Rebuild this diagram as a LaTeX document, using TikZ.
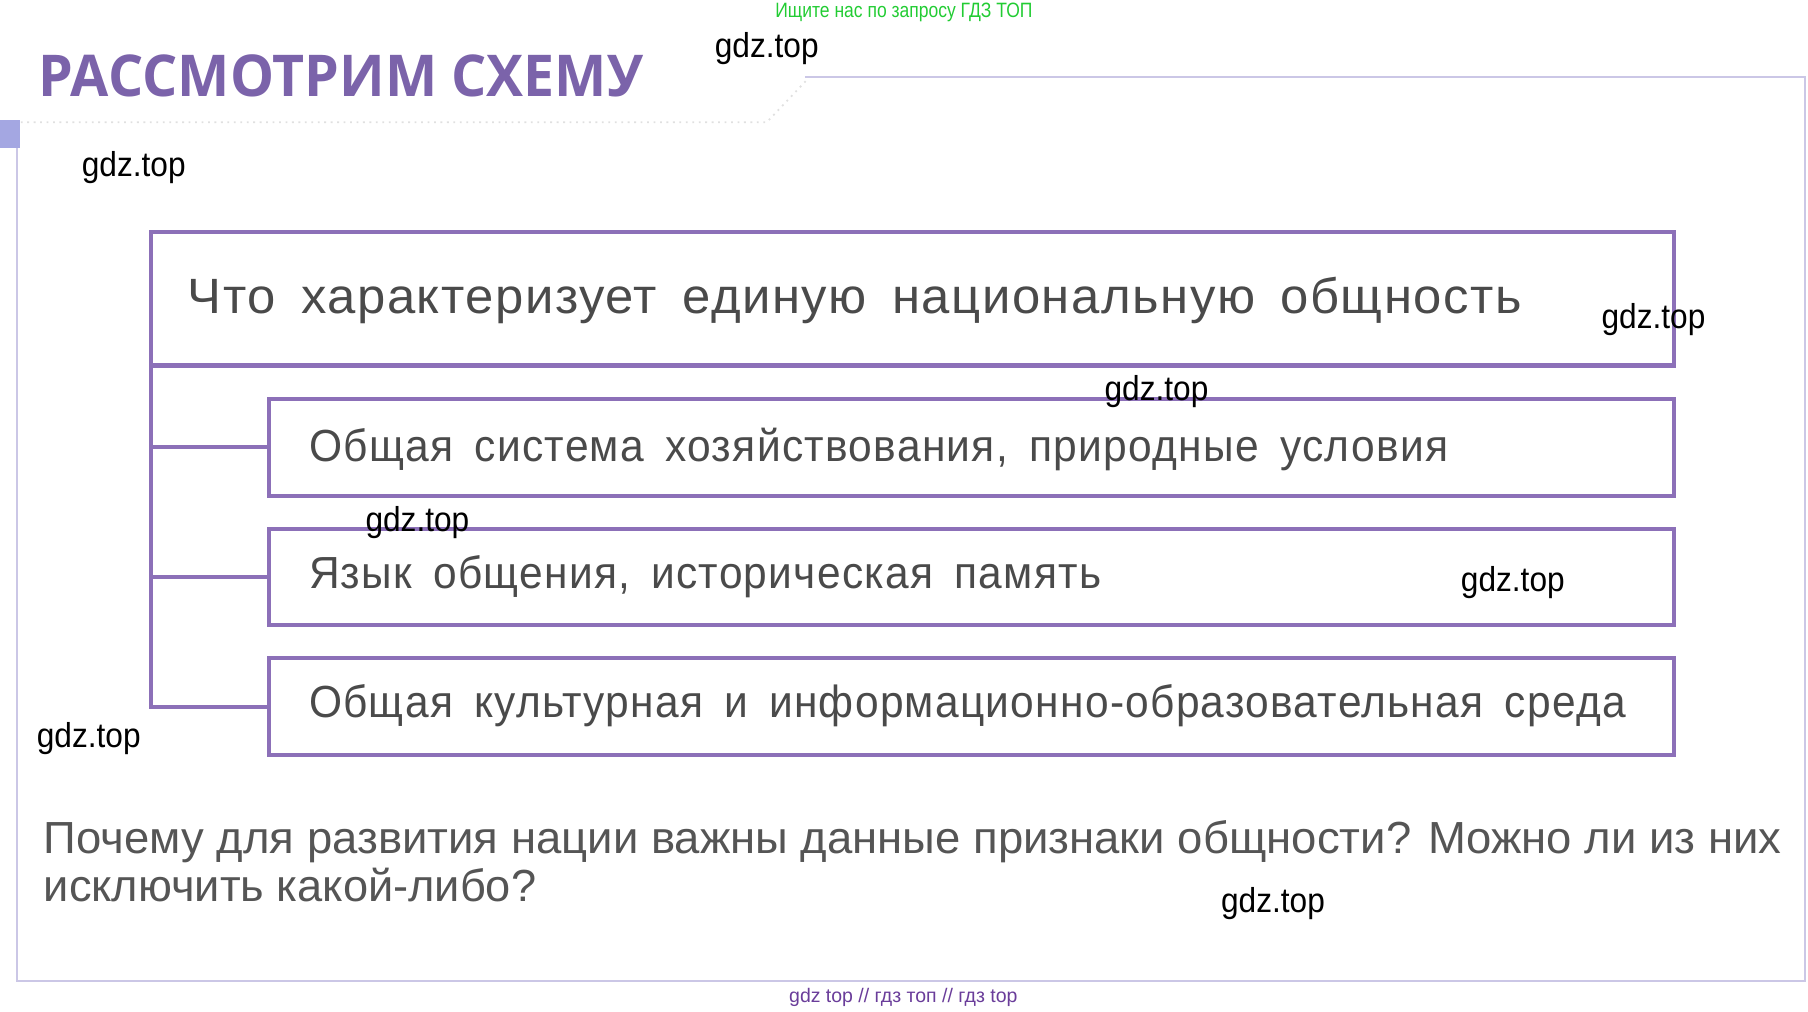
\documentclass[tikz,border=0pt]{standalone}
\usepackage{fontspec}
\usepackage{graphicx}
\setmainfont{Liberation Sans}
\newfontfamily\bodyf{Liberation Sans}[LetterSpace=3]
\newfontfamily\plainf{Liberation Sans}
\newfontfamily\titlef{Open Sans}
\definecolor{boxc}{HTML}{8C70B8}
\definecolor{txtc}{HTML}{4A4A4A}
\definecolor{qc}{HTML}{555555}
\definecolor{titlec}{HTML}{7B63AA}
\definecolor{framec}{HTML}{CBC7E6}
\definecolor{tabc}{HTML}{A4A7E2}
\definecolor{greenc}{HTML}{22CC33}
\definecolor{wmc}{HTML}{6A3D9A}
\newlength\fitlen
\newcommand\fitto[2]{\settowidth{\fitlen}{#2}\pgfmathsetmacro\fitr{(#1)/\fitlen}\scalebox{\fitr}[1]{#2}}
\newcommand\mymainfont{\bodyf\fontsize{21.5pt}{26pt}\selectfont\spaceskip=0.5em\relax}
\newcommand\mysubfont{\bodyf\fontsize{19.5pt}{24pt}\selectfont\spaceskip=0.5em\relax}
\begin{document}
\begin{tikzpicture}[x=0.5pt,y=-0.5pt,
  boxst/.style={draw=boxc,line width=1.8pt,rectangle,inner sep=0pt,outer sep=0pt,anchor=north west},
  conn/.style={draw=boxc,line width=1.8pt},
  txt/.style={inner sep=0pt,outer sep=0pt,anchor=base west,text=txtc},
  mainf/.style={font=\mymainfont},
  subf/.style={font=\mysubfont},
  qf/.style={font=\plainf\fontsize{19.5pt}{24pt}\selectfont,text=qc},
  wm/.style={inner sep=0pt,outer sep=0pt,anchor=base west,text=black,font=\plainf\fontsize{15pt}{18pt}\selectfont}]
\useasboundingbox (0,0) rectangle (1568,877);
% outer frame
\draw[framec,line width=0.9pt] (698,67) -- (1565,67) -- (1565,851) -- (15,851) -- (15,128);
\draw[black!12,line width=0.8pt,dotted] (18,106) -- (665,106) -- (700,69);
\fill[tabc] (0,104) rectangle (17,128);
% title
\node[inner sep=0pt,outer sep=0pt,anchor=base west,text=titlec,font=\titlef\bfseries\fontsize{25pt}{30pt}\selectfont] (title) at (33,84) {\fitto{262.5pt}{РАССМОТРИМ СХЕМУ}};
% boxes
\node[boxst,minimum width=660.5pt,minimum height=58pt] (main) at (131,201) {};
\node[boxst,minimum width=609.5pt,minimum height=42pt] (s1) at (233,346) {};
\node[boxst,minimum width=609.5pt,minimum height=41.5pt] (s2) at (233,459) {};
\node[boxst,minimum width=609.5pt,minimum height=42pt] (s3) at (233,571) {};
% connectors
\draw[conn] (main.south west) |- (s3.west);
\draw[conn] (s1.west) -- (s1.west -| main.south west);
\draw[conn] (s2.west) -- (s2.west -| main.south west);
% texts
\node[txt,mainf] (t0) at (163,272) {\fitto{578.5pt}{Что характеризует единую национальную общность}};
\node[txt,subf] (t1) at (268,400) {\fitto{494pt}{Общая система хозяйствования, природные условия}};
\node[txt,subf] (t2) at (268,510) {\fitto{343.5pt}{Язык общения, историческая память}};
\node[txt,subf] (t3) at (268,622) {\fitto{571pt}{Общая культурная и информационно-образовательная среда}};
\node[txt,qf] (q1) at (38,740) {\fitto{753.5pt}{Почему для развития нации важны данные признаки общности? Можно ли из них}};
\node[txt,qf] (q2) at (38,782) {\fitto{213.5pt}{исключить какой-либо?}};
% watermarks
\node[inner sep=0pt,anchor=base west,text=greenc,font=\plainf\fontsize{9pt}{10pt}\selectfont] (wtop) at (672,15) {\fitto{111.5pt}{Ищите нас по запросу ГДЗ ТОП}};
\node[inner sep=0pt,anchor=base west,text=wmc,font=\plainf\fontsize{8.5pt}{10pt}\selectfont] (wbot) at (684,869) {\fitto{99pt}{gdz top // гдз топ // гдз top}};
\node[wm] (g1) at (620,50) {\fitto{45pt}{gdz.top}};
\node[wm] (g2) at (71,153) {\fitto{45pt}{gdz.top}};
\node[wm] (g3) at (1389,285) {\fitto{45pt}{gdz.top}};
\node[wm] (g4) at (958,347) {\fitto{45pt}{gdz.top}};
\node[wm] (g5) at (317,461) {\fitto{45pt}{gdz.top}};
\node[wm] (g6) at (1267,513) {\fitto{45pt}{gdz.top}};
\node[wm] (g7) at (32,648) {\fitto{45pt}{gdz.top}};
\node[wm] (g8) at (1059,791) {\fitto{45pt}{gdz.top}};
\end{tikzpicture}
\end{document}
